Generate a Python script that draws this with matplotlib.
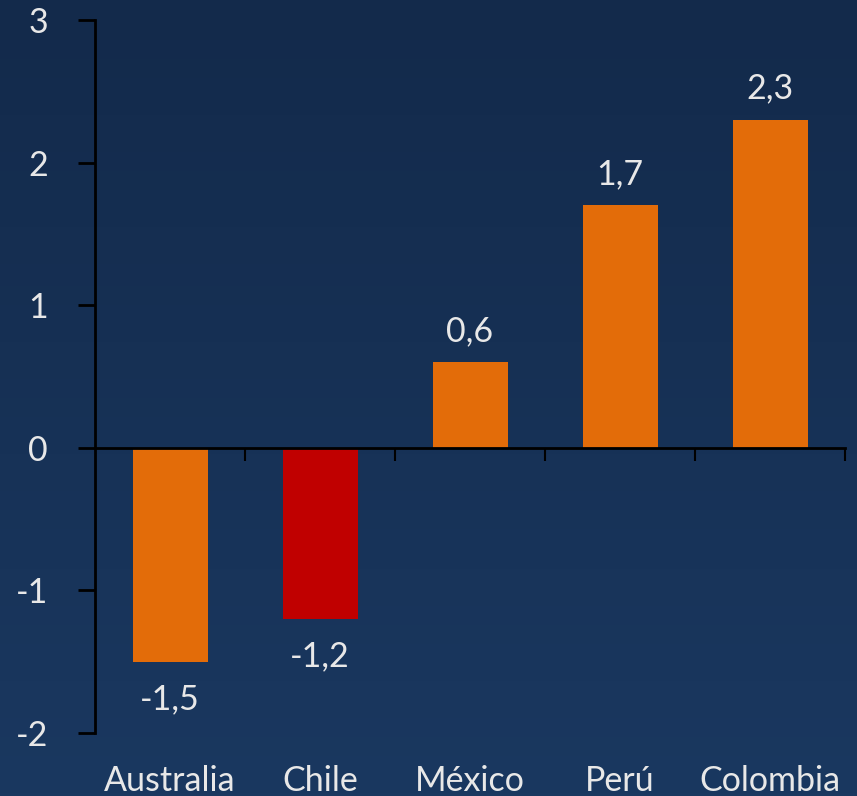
import numpy as np
from matplotlib import pyplot as plt
from matplotlib import transforms
from matplotlib.colors import LinearSegmentedColormap

countries = ["Australia", "Chile", "México", "Perú", "Colombia"]
values = [-1.5, -1.2, 0.6, 1.7, 2.3]
labels = ["-1,5", "-1,2", "0,6", "1,7", "2,3"]
colors = ["#E36C09", "#C00000", "#E36C09", "#E36C09", "#E36C09"]
yticks = [-2, -1, 0, 1, 2, 3]

plt.rcParams['font.family'] = ['Lato', 'DejaVu Sans']
txt = "#E8E8E8"
fs = 24.5

fig = plt.figure(figsize=(8.57, 7.96), dpi=100)

# background gradient
bg = fig.add_axes([0, 0, 1, 1], zorder=-10)
grad = np.linspace(0, 1, 256).reshape(-1, 1)
cm = LinearSegmentedColormap.from_list("bg", ["#132A4B", "#1A3860"])
bg.imshow(grad, aspect="auto", cmap=cm, extent=[0, 1, 0, 1], origin="upper")
bg.axis("off")

ax = fig.add_axes([95 / 857, 1 - 733 / 796, 750 / 857, 713 / 796])
ax.patch.set_alpha(0)
x = np.arange(len(countries))
ax.bar(x, values, width=0.5, color=colors, zorder=1)

ax.set_xlim(-0.5, 4.5)
ax.set_ylim(-2, 3)
ax.set_yticks(yticks)
ax.set_yticklabels([str(v) for v in yticks])
ax.tick_params(axis="y", length=12, width=2, color="black", labelsize=fs,
               labelcolor=txt, pad=22)
ax.set_xticks(np.arange(0.5, 5, 1.0))
ax.set_xticklabels([])
ax.tick_params(axis="x", length=9, width=1.5, color="black", direction="out")

for s in ["top", "right"]:
    ax.spines[s].set_visible(False)
ax.spines["bottom"].set_position(("data", 0))
ax.spines["bottom"].set_linewidth(2)
ax.spines["left"].set_linewidth(2)
ax.spines["bottom"].set_zorder(3)

for xi, v, lab in zip(x, values, labels):
    off = 0.22 if v > 0 else -0.26
    ax.text(xi, v + off, lab, ha="center", va="center", color=txt, fontsize=fs)

trans = transforms.blended_transform_factory(ax.transData, ax.transAxes)
for xi, c in zip(x, countries):
    ax.text(xi, -0.068, c, ha="center", va="center", color=txt, fontsize=fs,
            transform=trans)

fig.savefig("out.png", dpi=100)
